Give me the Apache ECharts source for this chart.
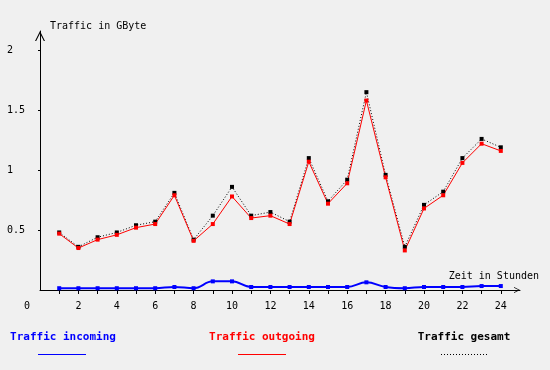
<!DOCTYPE html>
<html>
<head>
<meta charset="utf-8">
<script src="https://cdn.jsdelivr.net/npm/echarts@6/dist/echarts.min.js"></script>
<style>
html,body{margin:0;padding:0;background:#f0f0f0;}
#c{width:550px;height:370px;}
</style>
</head>
<body>
<div id="c"></div>
<script>
var hours = [1,2,3,4,5,6,7,8,9,10,11,12,13,14,15,16,17,18,19,20,21,22,23,24];
var incoming = [0.015,0.015,0.015,0.015,0.015,0.015,0.025,0.015,0.072,0.072,0.025,0.025,0.025,0.025,0.025,0.025,0.064,0.025,0.015,0.025,0.025,0.025,0.033,0.033];
var outgoing = [0.47,0.35,0.42,0.46,0.52,0.55,0.79,0.41,0.55,0.78,0.60,0.62,0.55,1.07,0.72,0.89,1.58,0.94,0.33,0.68,0.79,1.06,1.22,1.16];
var gesamt = [0.48,0.36,0.44,0.48,0.54,0.57,0.81,0.42,0.62,0.86,0.62,0.65,0.57,1.10,0.74,0.92,1.65,0.96,0.36,0.71,0.82,1.10,1.26,1.19];
var xLabelValues = [0,2,4,6,8,10,12,14,16,18,20,22,24];
var yLabelValues = [0.5,1,1.5,2];
var seriesNames = ['Traffic incoming','Traffic outgoing','Traffic gesamt'];
var yTitle = 'Traffic in GByte';
var xTitle = 'Zeit in Stunden';

function pairs(vals){ return hours.map(function(h,i){ return [h, vals[i]]; }); }

var FONT = '"DejaVu Sans Mono", "Liberation Mono", monospace';
var chevron = 'path://M5,0 L10,10 L8.8,10 L5,2.4 L1.2,10 L0,10 Z';

var chart = echarts.init(document.getElementById('c'), null, {renderer:'canvas'});
chart.setOption({
  backgroundColor: '#f0f0f0',
  animation: false,
  grid: {left: 40, right: 30, top: 31, bottom: 80, containLabel: false},
  xAxis: {
    type: 'value', min: 0, max: 25,
    axisLine: {show: true, lineStyle: {color: '#000', width: 1}, symbol: ['none', chevron], symbolSize: [8, 6], symbolOffset: [0, -3]},
    axisTick: {show: true, length: 4, inside: false, customValues: hours, lineStyle: {color: '#000'}},
    axisLabel: {
      show: true, customValues: xLabelValues, margin: 11, color: '#000',
      fontFamily: FONT, fontSize: 10,
      formatter: function(v){ return v === 0 ? '{o|0}' : String(v); },
      rich: {o: {fontFamily: FONT, fontSize: 10, color: '#000', padding: [0, 26, 0, 0]}}
    },
    splitLine: {show: false}
  },
  yAxis: {
    type: 'value', min: 0, max: 2.16,
    axisLine: {show: true, lineStyle: {color: '#000', width: 1}, symbol: ['none', chevron], symbolSize: [10, 10], symbolOffset: [0, -5]},
    axisTick: {show: true, length: 2, inside: false, customValues: yLabelValues, lineStyle: {color: '#000'}},
    axisLabel: {show: true, customValues: yLabelValues, align: 'left', margin: 33, color: '#000', fontFamily: FONT, fontSize: 10},
    splitLine: {show: false}
  },
  series: [
    {
      name: seriesNames[2], type: 'line', data: pairs(gesamt),
      symbol: 'rect', symbolSize: 4, showSymbol: true,
      itemStyle: {color: '#000'},
      lineStyle: {color: '#000', width: 1, type: [1, 2]}
    },
    {
      name: seriesNames[1], type: 'line', data: pairs(outgoing),
      symbol: 'rect', symbolSize: 4, showSymbol: true,
      itemStyle: {color: '#ff0000'},
      lineStyle: {color: '#ff0000', width: 1}
    },
    {
      name: seriesNames[0], type: 'line', data: pairs(incoming), smooth: 0.4,
      symbol: 'rect', symbolSize: 4, showSymbol: true,
      itemStyle: {color: '#0000ff'},
      lineStyle: {color: '#0000ff', width: 2}
    }
  ],
  graphic: [
    {type: 'text', left: 50, top: 21, style: {text: yTitle, font: '10px ' + FONT, fill: '#000'}},
    {type: 'text', right: 11, top: 271, style: {text: xTitle, font: '10px ' + FONT, fill: '#000'}},
    {type: 'text', x: 63, y: 337, style: {text: seriesNames[0], font: 'bold 11px ' + FONT, fill: '#0000ff', align: 'center', verticalAlign: 'middle'}},
    {type: 'text', x: 262, y: 337, style: {text: seriesNames[1], font: 'bold 11px ' + FONT, fill: '#ff0000', align: 'center', verticalAlign: 'middle'}},
    {type: 'text', x: 464, y: 337, style: {text: seriesNames[2], font: 'bold 11px ' + FONT, fill: '#000', align: 'center', verticalAlign: 'middle'}},
    {type: 'line', shape: {x1: 38, y1: 354.5, x2: 86, y2: 354.5}, style: {stroke: '#0000ff', lineWidth: 1}},
    {type: 'line', shape: {x1: 238, y1: 354.5, x2: 286, y2: 354.5}, style: {stroke: '#ff0000', lineWidth: 1}},
    {type: 'line', shape: {x1: 441, y1: 354.5, x2: 488, y2: 354.5}, style: {stroke: '#000', lineWidth: 1, lineDash: [1, 2]}}
  ]
});
</script>
</body>
</html>
